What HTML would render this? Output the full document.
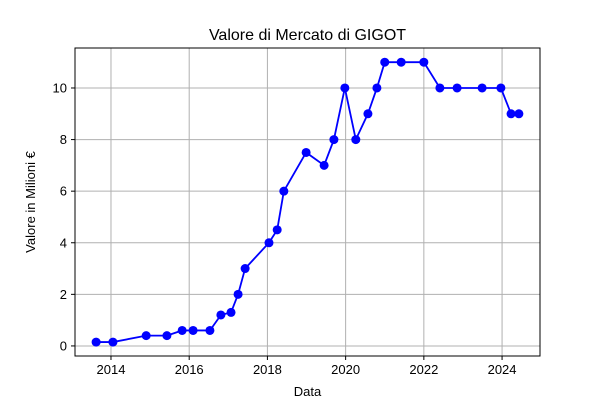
<!DOCTYPE html>
<html><head><meta charset="utf-8"><style>
body{margin:0;background:#fff;font-family:"Liberation Sans",sans-serif}
</style></head><body>
<svg id="c" width="600" height="400" xmlns="http://www.w3.org/2000/svg" font-family="Liberation Sans, sans-serif">
<rect width="600" height="400" fill="#fff"/>
<g id="grid"></g><g id="axes"></g><g id="series"></g>
<text x="307.5" y="40" font-size="16" text-anchor="middle">Valore di Mercato di GIGOT</text>
<text x="307.5" y="396" font-size="13" text-anchor="middle">Data</text>
<text x="35" y="202" font-size="13" text-anchor="middle" transform="rotate(-90 35 202)">Valore in Milioni €</text>
</svg>
<script>
const years=[2013.62,2014.05,2014.9,2015.43,2015.82,2016.1,2016.53,2016.81,2017.07,2017.25,2017.43,2018.04,2018.25,2018.42,2018.99,2019.45,2019.7,2019.98,2020.26,2020.57,2020.8,2021.0,2021.42,2022.0,2022.41,2022.85,2023.49,2023.97,2024.23,2024.43];
const values=[0.15,0.15,0.4,0.4,0.6,0.6,0.6,1.2,1.3,2,3,4,4.5,6,7.5,7,8,10,8,9,10,11,11,11,10,10,10,10,9,9];
const xTicks=[2014,2016,2018,2020,2022,2024];
const yTicks=[0,2,4,6,8,10];
const L=75,R=540,T=48,B=356,x0=2013.08,x1=2024.97,y0=-0.39,y1=11.55;
const X=v=>L+(v-x0)/(x1-x0)*(R-L), Y=v=>B-(v-y0)/(y1-y0)*(B-T);
const NS="http://www.w3.org/2000/svg";
function mk(p,t,a){const e=document.createElementNS(NS,t);for(const k in a)e.setAttribute(k,a[k]);p.appendChild(e);return e;}
const g=document.getElementById('grid'),ax=document.getElementById('axes'),s=document.getElementById('series');
xTicks.forEach(t=>{const x=X(t);
const l=mk(g,'line',{x1:x,x2:x,y1:T,y2:B,stroke:'#b0b0b0','stroke-width':1});


mk(ax,'line',{x1:x,x2:x,y1:B,y2:B+4,stroke:'#000'});
const tx=mk(ax,'text',{x:x,y:B+18,'font-size':13,'text-anchor':'middle'});tx.textContent=t;

});
yTicks.forEach(t=>{const y=Y(t);
const l=mk(g,'line',{x1:L,x2:R,y1:y,y2:y,stroke:'#b0b0b0','stroke-width':1});


mk(ax,'line',{x1:L-4,x2:L,y1:y,y2:y,stroke:'#000'});
const tx=mk(ax,'text',{x:L-8,y:y+4.5,'font-size':13,'text-anchor':'end'});tx.textContent=t;

});
const fr=mk(ax,'rect',{x:L,y:T,width:R-L,height:B-T,fill:'none',stroke:'#000','stroke-width':1});


const pl=mk(s,'polyline',{points:years.map((v,i)=>X(v)+','+Y(values[i])).join(' '),fill:'none',stroke:'#0000ff','stroke-width':1.8});


years.forEach((v,i)=>{const c=mk(s,'circle',{cx:X(v),cy:Y(values[i]),r:4.5,fill:'#0000ff'});

});
</script>
</body></html>
